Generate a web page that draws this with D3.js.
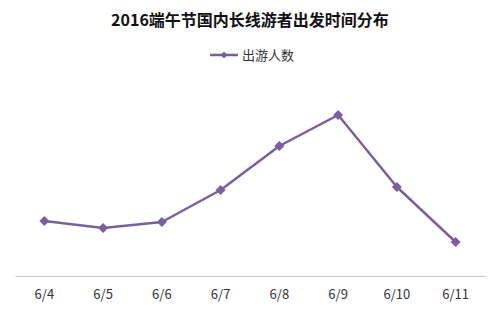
<!DOCTYPE html>
<html lang="zh">
<head>
  <meta charset="UTF-8">
  <title>2016端午节国内长线游者出发时间分布</title>
  <script src="https://cdn.jsdelivr.net/npm/d3@7"></script>
  <style>
    html, body { margin: 0; padding: 0; background: #fff; }
    text { font-family: "Noto Sans CJK SC", "Noto Sans", sans-serif; }
  </style>
</head>
<body>
  <div class="chart"></div>
  <script>
    // data
    const days = ['6/4', '6/5', '6/6', '6/7', '6/8', '6/9', '6/10', '6/11'];
    const travellers = [27.5, 24, 27, 43, 65, 80.5, 44.5, 17];
    const seriesName = '出游人数';
    const title = '2016端午节国内长线游者出发时间分布';

    const width = 500, height = 312;
    const purple = '#7a5fa0';

    const svg = d3.select('.chart')
      .append('svg')
      .attr('width', width)
      .attr('height', height);

    const x = d3.scaleBand()
      .domain(days)
      .range([15, 485]);

    const y = d3.scaleLinear()
      .domain([0, 100])
      .range([276, 76]);

    // title
    svg.append('text')
      .attr('x', 250)
      .attr('y', 26)
      .attr('text-anchor', 'middle')
      .style('font-size', '16px')
      .style('font-weight', 'bold')
      .attr('fill', '#111')
      .text(title);

    // rotated square marker
    const marker = d3.symbol(d3.symbolSquare, 50)();

    // legend
    const legend = svg.append('g').attr('transform', 'translate(210, 55)');
    legend.append('line')
      .attr('x1', 0).attr('x2', 28)
      .attr('stroke', purple).attr('stroke-width', 2.5);
    legend.append('path')
      .attr('d', d3.symbol(d3.symbolSquare, 24)())
      .attr('transform', 'translate(14,0) rotate(45)')
      .attr('fill', purple);
    legend.append('text')
      .attr('x', 32)
      .attr('dy', '0.35em')
      .style('font-size', '13px')
      .attr('fill', '#333')
      .text(seriesName);

    // x axis
    const xAxis = svg.append('g')
      .attr('transform', 'translate(0, 276)')
      .call(d3.axisBottom(x).tickSize(0).tickPadding(14));
    xAxis.select('.domain').attr('stroke', '#c8c8c8').attr('stroke-width', 1.2);
    xAxis.selectAll('text')
      .style('font-size', '13px')
      .style('font-family', '"Noto Sans CJK SC", sans-serif')
      .attr('fill', '#333');

    // line
    const cx = d => x(d) + x.bandwidth() / 2;
    const line = d3.line()
      .x((d, i) => cx(days[i]))
      .y(d => y(d));

    svg.append('path')
      .datum(travellers)
      .attr('fill', 'none')
      .attr('stroke', purple)
      .attr('stroke-width', 2.5)
      .attr('stroke-linejoin', 'round')
      .attr('d', line);

    svg.selectAll('.marker')
      .data(travellers)
      .enter()
      .append('path')
      .attr('class', 'marker')
      .attr('d', marker)
      .attr('transform', (d, i) => `translate(${cx(days[i])},${y(d)}) rotate(45)`)
      .attr('fill', purple);
  </script>
</body>
</html>
